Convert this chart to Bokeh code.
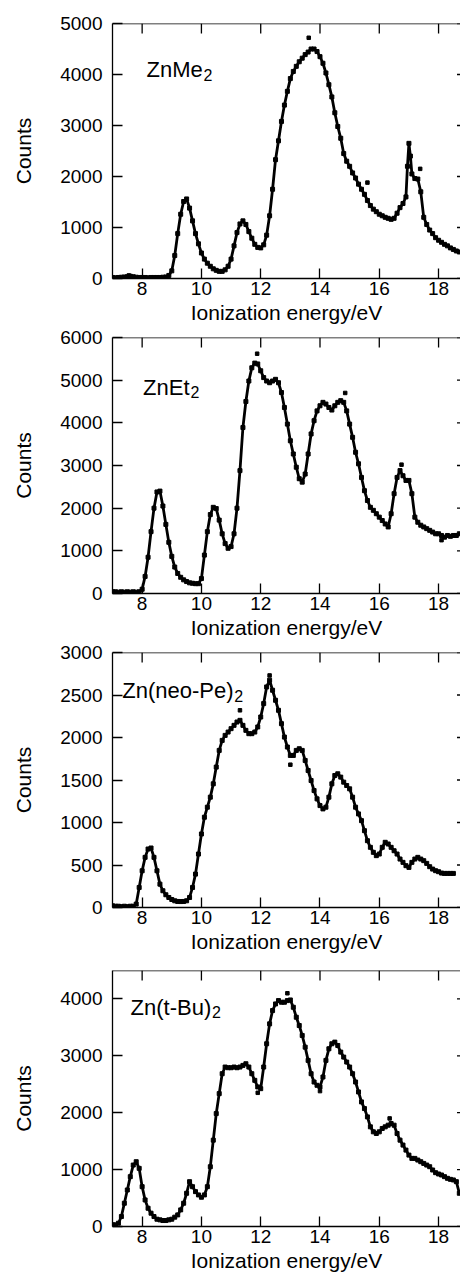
from bokeh.plotting import figure
from bokeh.layouts import column
from bokeh.models import Range1d, FixedTicker, Label, Span
from bokeh.embed import file_html
from bokeh.resources import INLINE

# ---------------- data ----------------
energy_ticks = [8, 10, 12, 14, 16, 18]

znme2_energy = [7.0, 7.1, 7.2, 7.3, 7.4, 7.5, 7.6, 7.7, 7.8, 7.9,
                8.0, 8.1, 8.2, 8.3, 8.4, 8.5, 8.6, 8.7, 8.8, 8.9,
                9.0, 9.1, 9.2, 9.3, 9.4, 9.5, 9.6, 9.7, 9.8, 9.9,
                10.0, 10.1, 10.2, 10.3, 10.4, 10.5, 10.6, 10.7, 10.8, 10.9,
                11.0, 11.1, 11.2, 11.3, 11.4, 11.5, 11.6, 11.7, 11.8, 11.9,
                12.0, 12.1, 12.2, 12.3, 12.4, 12.5, 12.6, 12.7, 12.8, 12.9,
                13.0, 13.1, 13.2, 13.3, 13.4, 13.5, 13.6, 13.7, 13.8, 13.9,
                14.0, 14.1, 14.2, 14.3, 14.4, 14.5, 14.6, 14.7, 14.8, 14.9,
                15.0, 15.1, 15.2, 15.3, 15.4, 15.5, 15.6, 15.7, 15.8, 15.9,
                16.0, 16.1, 16.2, 16.3, 16.4, 16.5, 16.6, 16.7, 16.8, 16.9,
                16.95, 17.0, 17.05, 17.1, 17.2, 17.3, 17.4, 17.5, 17.6, 17.7,
                17.8, 17.9, 18.0, 18.1, 18.2, 18.3, 18.4, 18.5, 18.6, 18.7]
znme2_counts = [20, 15, 20, 25, 30, 35, 45, 35, 25, 20,
                20, 20, 15, 20, 20, 20, 20, 25, 30, 60,
                150, 450, 880, 1260, 1510, 1560, 1380, 1130, 880, 680,
                500, 380, 300, 240, 190, 160, 140, 140, 170, 240,
                380, 640, 900, 1070, 1130, 1060, 920, 790, 670, 610,
                600, 660, 850, 1230, 1750, 2330, 2700, 3080, 3400, 3670,
                3920, 4060, 4160, 4250, 4320, 4390, 4440, 4500, 4500, 4450,
                4350, 4220, 4030, 3800, 3560, 3250, 2980, 2750, 2450, 2300,
                2200, 2070, 1970, 1850, 1750, 1650, 1530, 1430, 1360, 1310,
                1260, 1230, 1200, 1180, 1160, 1180, 1280, 1390, 1470, 1600,
                2200, 2650, 2400, 2050, 1960, 1950, 1700, 1200, 1060, 950,
                880, 800, 750, 710, 670, 640, 600, 570, 540, 520]
znme2_stray_energy = [7.55, 13.62, 15.6, 17.38]
znme2_stray_counts = [60, 4720, 1880, 2150]

znet2_energy = [7.0, 7.1, 7.2, 7.3, 7.4, 7.5, 7.6, 7.7, 7.8, 7.9,
                8.0, 8.1, 8.2, 8.3, 8.4, 8.5, 8.6, 8.7, 8.8, 8.9,
                9.0, 9.1, 9.2, 9.3, 9.4, 9.5, 9.6, 9.7, 9.8, 9.9,
                10.0, 10.1, 10.2, 10.3, 10.4, 10.5, 10.6, 10.7, 10.8, 10.9,
                11.0, 11.1, 11.2, 11.3, 11.4, 11.5, 11.6, 11.7, 11.8, 11.9,
                12.0, 12.1, 12.2, 12.3, 12.4, 12.5, 12.6, 12.7, 12.8, 12.9,
                13.0, 13.1, 13.2, 13.3, 13.4, 13.5, 13.6, 13.7, 13.8, 13.9,
                14.0, 14.1, 14.2, 14.3, 14.4, 14.5, 14.6, 14.7, 14.8, 14.9,
                15.0, 15.1, 15.2, 15.3, 15.4, 15.5, 15.6, 15.7, 15.8, 15.9,
                16.0, 16.1, 16.2, 16.3, 16.4, 16.5, 16.6, 16.7, 16.8, 16.9,
                17.0, 17.1, 17.2, 17.3, 17.4, 17.5, 17.6, 17.7, 17.8, 17.9,
                18.0, 18.1, 18.2, 18.3, 18.4, 18.5, 18.6, 18.7]
znet2_counts = [40, 40, 30, 40, 30, 40, 30, 40, 30, 40,
                100, 400, 850, 1450, 2000, 2380, 2400, 2050, 1620, 1200,
                870, 620, 470, 380, 320, 280, 250, 240, 230, 230,
                350, 900, 1450, 1850, 2020, 1990, 1720, 1400, 1170, 1060,
                1100, 1400, 2000, 2880, 3890, 4500, 4980, 5290, 5400, 5380,
                5220, 5060, 4980, 4940, 4980, 5020, 4940, 4710, 4360, 3970,
                3580, 3270, 2960, 2690, 2610, 2800, 3270, 3740, 4050, 4280,
                4400, 4480, 4440, 4360, 4300, 4400, 4480, 4520, 4480, 4280,
                3970, 3660, 3310, 3040, 2720, 2410, 2180, 2020, 1950, 1870,
                1790, 1710, 1630, 1560, 1870, 2340, 2720, 2880, 2760, 2650,
                2650, 2340, 1790, 1670, 1600, 1560, 1520, 1480, 1440, 1400,
                1400, 1360, 1320, 1360, 1340, 1360, 1360, 1400]
znet2_stray_energy = [11.88, 14.85, 16.75, 18.1]
znet2_stray_counts = [5620, 4700, 3020, 1250]

znnp2_energy = [7.0, 7.1, 7.2, 7.3, 7.4, 7.5, 7.6, 7.7, 7.8, 7.9,
                8.0, 8.1, 8.2, 8.3, 8.4, 8.5, 8.6, 8.7, 8.8, 8.9,
                9.0, 9.1, 9.2, 9.3, 9.4, 9.5, 9.6, 9.7, 9.8, 9.9,
                10.0, 10.1, 10.2, 10.3, 10.4, 10.5, 10.6, 10.7, 10.8, 10.9,
                11.0, 11.1, 11.2, 11.3, 11.4, 11.5, 11.6, 11.7, 11.8, 11.9,
                12.0, 12.1, 12.2, 12.3, 12.4, 12.5, 12.6, 12.7, 12.8, 12.9,
                13.0, 13.1, 13.2, 13.3, 13.4, 13.5, 13.6, 13.7, 13.8, 13.9,
                14.0, 14.1, 14.2, 14.3, 14.4, 14.5, 14.6, 14.7, 14.8, 14.9,
                15.0, 15.1, 15.2, 15.3, 15.4, 15.5, 15.6, 15.7, 15.8, 15.9,
                16.0, 16.1, 16.2, 16.3, 16.4, 16.5, 16.6, 16.7, 16.8, 16.9,
                17.0, 17.1, 17.2, 17.3, 17.4, 17.5, 17.6, 17.7, 17.8, 17.9,
                18.0, 18.1, 18.2, 18.3, 18.4, 18.5]
znnp2_counts = [20, 15, 15, 10, 15, 10, 15, 15, 40, 236,
                432, 590, 688, 700, 590, 432, 275, 197, 150, 118,
                94, 79, 71, 70, 71, 79, 118, 236, 393, 629,
                865, 1062, 1180, 1298, 1455, 1652, 1848, 1966, 2025, 2064,
                2104, 2143, 2182, 2202, 2143, 2084, 2045, 2045, 2064, 2124,
                2241, 2399, 2595, 2674, 2556, 2438, 2320, 2163, 2005, 1888,
                1789, 1789, 1848, 1868, 1848, 1730, 1612, 1494, 1376, 1278,
                1199, 1160, 1180, 1298, 1455, 1553, 1573, 1534, 1475, 1435,
                1396, 1298, 1180, 1101, 1022, 904, 786, 708, 649, 610,
                629, 708, 767, 747, 708, 668, 629, 570, 531, 492,
                472, 531, 570, 590, 570, 551, 519, 480, 452, 433,
                421, 405, 401, 401, 401, 401]
znnp2_stray_energy = [11.3, 12.3, 13.0]
znnp2_stray_counts = [2320, 2730, 1680]

zntbu2_energy = [7.0, 7.1, 7.2, 7.3, 7.4, 7.5, 7.6, 7.7, 7.8, 7.9,
                 8.0, 8.1, 8.2, 8.3, 8.4, 8.5, 8.6, 8.7, 8.8, 8.9,
                 9.0, 9.1, 9.2, 9.3, 9.4, 9.5, 9.6, 9.7, 9.8, 9.9,
                 10.0, 10.1, 10.2, 10.3, 10.4, 10.5, 10.6, 10.7, 10.8, 10.9,
                 11.0, 11.1, 11.2, 11.3, 11.4, 11.5, 11.6, 11.7, 11.8, 11.9,
                 12.0, 12.1, 12.2, 12.3, 12.4, 12.5, 12.6, 12.7, 12.8, 12.9,
                 13.0, 13.1, 13.2, 13.3, 13.4, 13.5, 13.6, 13.7, 13.8, 13.9,
                 14.0, 14.1, 14.2, 14.3, 14.4, 14.5, 14.6, 14.7, 14.8, 14.9,
                 15.0, 15.1, 15.2, 15.3, 15.4, 15.5, 15.6, 15.7, 15.8, 15.9,
                 16.0, 16.1, 16.2, 16.3, 16.4, 16.5, 16.6, 16.7, 16.8, 16.9,
                 17.0, 17.1, 17.2, 17.3, 17.4, 17.5, 17.6, 17.7, 17.8, 17.9,
                 18.0, 18.1, 18.2, 18.3, 18.4, 18.5, 18.6, 18.7]
zntbu2_counts = [29, 29, 58, 175, 409, 642, 876, 1080, 1139, 1022,
                 700, 467, 321, 234, 175, 128, 117, 105, 105, 117,
                 128, 164, 204, 292, 409, 584, 788, 700, 613, 555,
                 514, 555, 700, 1051, 1518, 1985, 2336, 2686, 2803, 2791,
                 2791, 2803, 2791, 2803, 2832, 2861, 2803, 2686, 2569, 2453,
                 2423, 2803, 3212, 3562, 3796, 3912, 3971, 3942, 3942, 3971,
                 3982, 3854, 3679, 3533, 3358, 3153, 2920, 2686, 2540, 2482,
                 2453, 2628, 2920, 3124, 3212, 3241, 3182, 3066, 2978, 2891,
                 2803, 2686, 2540, 2365, 2190, 2073, 1927, 1752, 1664, 1635,
                 1664, 1723, 1752, 1781, 1810, 1781, 1635, 1518, 1431, 1343,
                 1255, 1197, 1197, 1168, 1139, 1109, 1080, 1051, 993, 946,
                 923, 905, 876, 847, 829, 818, 788, 584]
zntbu2_stray_energy = [11.9, 12.9, 14.0, 16.35]
zntbu2_stray_counts = [2350, 4100, 2380, 1900]

counts_ticks_1 = [0, 1000, 2000, 3000, 4000, 5000]
counts_ticks_2 = [0, 1000, 2000, 3000, 4000, 5000, 6000]
counts_ticks_3 = [0, 500, 1000, 1500, 2000, 2500, 3000]
counts_ticks_4 = [0, 1000, 2000, 3000, 4000]

names = ["ZnMe", "ZnEt", "Zn(neo-Pe)", "Zn(t-Bu)"]
subscripts = ["2", "2", "2", "2"]

# ---------------- styling / layout ----------------
FONT = "Liberation Sans"
X_START, X_END = 7.0, 18.74
TICK_LEN = 10  # px, ticks point inwards

panels = [
    dict(x=znme2_energy, y=znme2_counts, sx=znme2_stray_energy, sy=znme2_stray_counts,
         ymax=5000, ticks=counts_ticks_1, top=23, frame=255, bottom=49,
         lx=8.15, ly=4096, sub_dx=57, sub_dy=-5),
    dict(x=znet2_energy, y=znet2_counts, sx=znet2_stray_energy, sy=znet2_stray_counts,
         ymax=6000, ticks=counts_ticks_2, top=10, frame=256, bottom=49,
         lx=8.03, ly=4825, sub_dx=47.5, sub_dy=-4),
    dict(x=znnp2_energy, y=znnp2_counts, sx=znnp2_stray_energy, sy=znnp2_stray_counts,
         ymax=3000, ticks=counts_ticks_3, top=10, frame=255, bottom=49,
         lx=7.33, ly=2556, sub_dx=112, sub_dy=-6),
    dict(x=zntbu2_energy, y=zntbu2_counts, sx=zntbu2_stray_energy, sy=zntbu2_stray_counts,
         ymax=4500, ticks=counts_ticks_4, top=14, frame=256, bottom=49,
         lx=7.61, ly=3854, sub_dx=81.5, sub_dy=-5),
]

FRAME_W = 460 - 112
figs = []
for i, pd_ in enumerate(panels):
    h = pd_["top"] + pd_["frame"] + pd_["bottom"]
    p = figure(width=460, height=h, output_backend="svg", toolbar_location=None,
               x_range=Range1d(X_START, X_END), y_range=Range1d(0, pd_["ymax"]),
               min_border_left=112, min_border_right=0,
               min_border_top=pd_["top"], min_border_bottom=pd_["bottom"])
    p.outline_line_color = None
    p.xgrid.visible = False
    p.ygrid.visible = False
    p.background_fill_color = "white"
    p.border_fill_color = "white"

    xa = p.xaxis[0]
    xa.ticker = FixedTicker(ticks=energy_ticks)
    xa.major_tick_in = TICK_LEN
    xa.major_tick_out = 0
    xa.minor_tick_in = 0
    xa.minor_tick_out = 0
    xa.axis_line_width = 1.3
    xa.major_tick_line_width = 1.3
    xa.axis_line_color = "black"
    xa.major_tick_line_color = "black"
    xa.major_label_text_font = FONT
    xa.major_label_text_font_size = "19px"
    xa.major_label_text_color = "black"
    xa.major_label_standoff = 3
    xa.axis_label = "Ionization energy/eV"
    xa.axis_label_text_font = FONT
    xa.axis_label_text_font_size = "21px"
    xa.axis_label_text_font_style = "normal"
    xa.axis_label_text_color = "black"
    xa.axis_label_standoff = 3

    ya = p.yaxis[0]
    ya.ticker = FixedTicker(ticks=pd_["ticks"])
    ya.major_tick_in = TICK_LEN
    ya.major_tick_out = 0
    ya.minor_tick_in = 0
    ya.minor_tick_out = 0
    ya.axis_line_width = 1.3
    ya.major_tick_line_width = 1.3
    ya.axis_line_color = "black"
    ya.major_tick_line_color = "black"
    ya.major_label_text_font = FONT
    ya.major_label_text_font_size = "19px"
    ya.major_label_text_color = "black"
    ya.major_label_standoff = 10
    ya.axis_label = "Counts"
    ya.axis_label_text_font = FONT
    ya.axis_label_text_font_size = "21px"
    ya.axis_label_text_font_style = "normal"
    ya.axis_label_text_color = "black"
    ya.axis_label_standoff = 22

    # top frame line with inward ticks
    p.add_layout(Span(location=pd_["ymax"], dimension="width", line_color="black", line_width=1.3))
    tick_dy = pd_["ymax"] * TICK_LEN / pd_["frame"]
    p.segment(x0=energy_ticks, y0=[pd_["ymax"] - tick_dy] * len(energy_ticks),
              x1=energy_ticks, y1=[pd_["ymax"]] * len(energy_ticks),
              line_color="black", line_width=1.3)

    # short right-edge tick marks (the frame's right side lies just outside the picture)
    tick_dx = (X_END - X_START) * 3.5 / FRAME_W
    p.segment(x0=[X_END - tick_dx] * len(pd_["ticks"]), y0=pd_["ticks"],
              x1=[X_END] * len(pd_["ticks"]), y1=pd_["ticks"],
              line_color="black", line_width=1.3)

    p.line(pd_["x"], pd_["y"], line_color="black", line_width=2.8)
    p.scatter(pd_["x"], pd_["y"], marker="square", size=4, color="black")
    p.scatter(pd_["sx"], pd_["sy"], marker="square", size=3.5, color="black")

    p.add_layout(Label(x=pd_["lx"], y=pd_["ly"], text=names[i], text_font=FONT,
                       text_font_size="22px", text_color="black", text_baseline="alphabetic"))
    p.add_layout(Label(x=pd_["lx"], y=pd_["ly"], x_offset=pd_["sub_dx"], y_offset=pd_["sub_dy"],
                       text=subscripts[i], text_font=FONT,
                       text_font_size="16px", text_color="black", text_baseline="alphabetic"))
    figs.append(p)

layout = column(*figs, spacing=0)
open("out.html", "w").write(file_html(layout, INLINE))
